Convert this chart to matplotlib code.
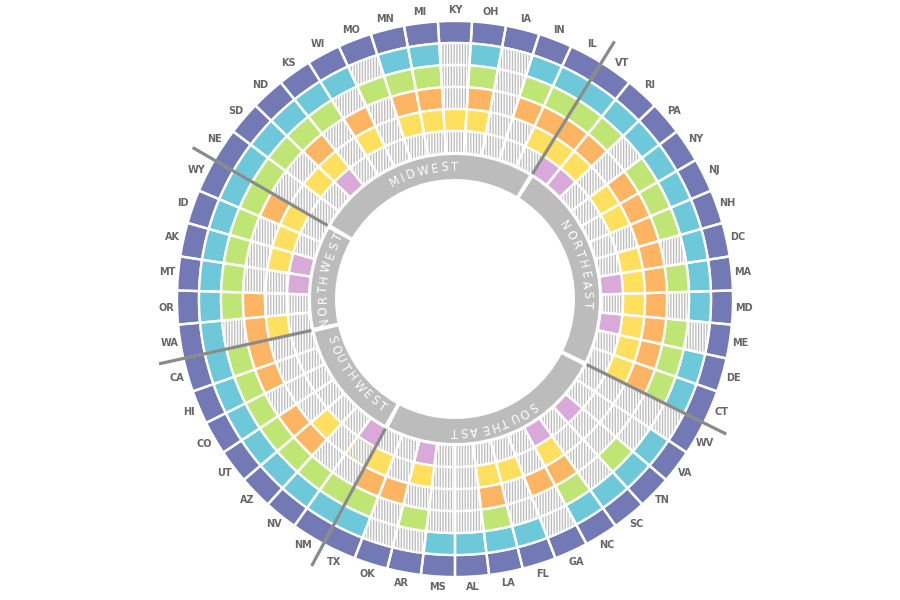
import numpy as np
import matplotlib
matplotlib.use('Agg')
import matplotlib.pyplot as plt
from matplotlib.font_manager import FontProperties

# states clockwise from the top
states = ['KY', 'OH', 'IA', 'IN', 'IL', 'VT', 'RI', 'PA', 'NY', 'NJ', 'NH', 'DC', 'MA',
          'MD', 'ME', 'DE', 'CT', 'WV', 'VA', 'TN', 'SC', 'NC', 'GA', 'FL', 'LA', 'AL',
          'MS', 'AR', 'OK', 'TX', 'NM', 'NV', 'AZ', 'UT', 'CO', 'HI', 'CA', 'WA', 'OR',
          'MT', 'AK', 'ID', 'WY', 'NE', 'SD', 'ND', 'KS', 'WI', 'MO', 'MN', 'MI']

# one list per ring, outermost first (1 = filled, 0 = empty/hatched)
purple = [1, 1, 1, 1, 1, 1, 1, 1, 1, 1, 1, 1, 1, 1, 1, 1, 1, 1, 1, 1, 1, 1, 1, 1, 1, 1,
          1, 1, 1, 1, 1, 1, 1, 1, 1, 1, 1, 1, 1, 1, 1, 1, 1, 1, 1, 1, 1, 1, 1, 1, 1]
cyan = [0, 1, 0, 1, 1, 1, 1, 1, 1, 1, 1, 1, 1, 1, 0, 1, 1, 0, 1, 1, 1, 1, 0, 1, 1, 1,
        1, 0, 0, 1, 1, 1, 1, 1, 1, 1, 1, 1, 1, 1, 1, 1, 1, 1, 1, 1, 1, 1, 0, 1, 1]
green = [0, 1, 0, 1, 1, 1, 1, 0, 1, 1, 1, 0, 1, 0, 1, 1, 1, 0, 0, 1, 0, 1, 0, 0, 1, 0,
         0, 1, 0, 1, 1, 1, 1, 1, 1, 1, 1, 0, 1, 1, 1, 1, 1, 1, 1, 1, 1, 0, 1, 1, 1]
orange = [0, 1, 0, 1, 1, 1, 1, 0, 1, 1, 1, 1, 1, 1, 1, 1, 1, 0, 0, 0, 0, 1, 1, 0, 1, 0,
          0, 0, 1, 1, 0, 0, 1, 1, 0, 1, 1, 1, 1, 0, 0, 0, 1, 0, 0, 1, 0, 1, 0, 1, 1]
yellow = [1, 1, 0, 0, 1, 1, 1, 0, 1, 1, 0, 1, 1, 1, 1, 1, 1, 0, 0, 0, 0, 1, 0, 1, 1, 0,
          0, 1, 0, 1, 0, 0, 1, 0, 0, 0, 0, 1, 0, 0, 1, 1, 1, 0, 1, 1, 0, 1, 0, 1, 1]
pink = [0, 0, 0, 0, 0, 1, 1, 0, 0, 0, 0, 0, 1, 0, 1, 0, 0, 0, 0, 1, 0, 1, 0, 0, 0, 0,
        0, 1, 0, 0, 1, 0, 0, 0, 0, 0, 0, 0, 0, 1, 1, 0, 0, 0, 0, 1, 0, 0, 0, 0, 0]

regions = ['MIDWEST', 'NORTHEAST', 'SOUTHEAST', 'SOUTHWEST', 'NORTHWEST']
region_first = ['NE', 'VT', 'WV', 'NM', 'WA']
region_count = [13, 12, 13, 7, 6]
region_cw = [True, True, True, False, True]   # reading direction of the band text

ring_colors = ['#7279b5', '#6dc8d9', '#bfe674', '#fdb563', '#ffe05e', '#d9a9d9']

plt.rcParams['hatch.color'] = '#bdbdbd'
plt.rcParams['hatch.linewidth'] = 0.95

fig = plt.figure(figsize=(9, 6), dpi=100)
R = 310
ax = fig.add_axes([(455 - R) / 900, (301 - R) / 600, 2 * R / 900, 2 * R / 600],
                  projection='polar')
ax.set_theta_zero_location('N')
ax.set_theta_direction(-1)
ax.set_ylim(0, R)
ax.axis('off')

n = len(states)
step = 2 * np.pi / n
theta = np.arange(n) * step

outer = 278
ring_w = 22
rings = [purple, cyan, green, orange, yellow, pink]
for k, (vals, col) in enumerate(zip(rings, ring_colors)):
    bottom = outer - ring_w * (k + 1)
    full = np.array(vals) == 1
    ax.bar(theta[~full], ring_w, width=step, bottom=bottom, color='white',
           edgecolor='#bdbdbd', hatch='||||||', linewidth=0)
    ax.bar(theta[full], ring_w, width=step, bottom=bottom, color=col, linewidth=0)
    ax.bar(theta, ring_w, width=step, bottom=bottom, fill=False,
           edgecolor='white', linewidth=1.7)

# faint yellow outline on the empty NM yellow cell
i_nm = states.index('NM')
ax.bar(theta[i_nm], ring_w - 3, width=step * 0.86, bottom=outer - ring_w * 5 + 1.5,
       fill=False, edgecolor='#f3e48a', linewidth=0.6)

# state labels
for t, s in zip(theta, states):
    ax.text(t, 289, s, ha='center', va='center', fontsize=7, fontweight='bold',
            color='#666666')

# region band, separators and curved names
renderer = fig.canvas.get_renderer()
fp = FontProperties(family='DejaVu Sans', size=8.3)
r_band, band_w = 120, 24
r_txt = 131
for name, first, cnt, cw in zip(regions, region_first, region_count, region_cw):
    start = (states.index(first) - 0.5) * step
    mid = start + cnt * step / 2
    ax.bar(mid, band_w, width=cnt * step - 0.032, bottom=r_band, color='#bcbcbc',
           linewidth=0)
    ax.plot([start, start], [147, 303], color='#8a8a8a', lw=2.3,
            solid_capstyle='butt', zorder=5)

    widths = [renderer.get_text_width_height_descent(c, fp, ismath=False)[0] for c in name]
    track = 2.5
    total = sum(widths) + track * (len(name) - 1)
    p = -total / 2
    for c, w in zip(name, widths):
        pc = p + w / 2
        ang = mid + pc / r_txt if cw else mid - pc / r_txt
        deg = np.degrees(ang)
        rot = -deg if cw else 180 - deg
        rr = r_txt + 1 if cw else r_txt - 1
        ax.text(ang, rr, c, rotation=rot, rotation_mode='anchor', ha='center',
                va='center', fontproperties=fp, color='white', zorder=6)
        p += w + track

fig.savefig('out.png', dpi=100, facecolor='white')
